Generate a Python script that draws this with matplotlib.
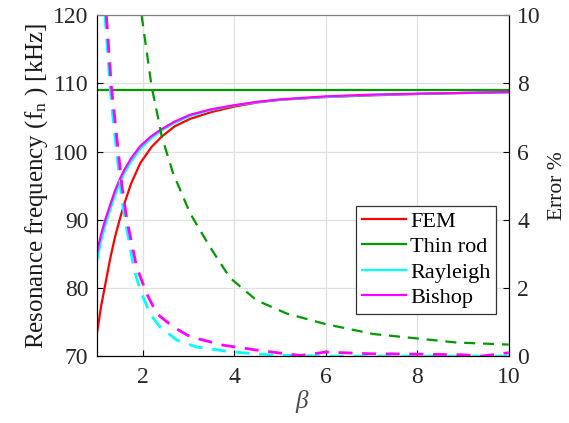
import numpy as np
import matplotlib
matplotlib.use("Agg")
import matplotlib.pyplot as plt

plt.rcParams['font.family'] = ['Liberation Serif', 'DejaVu Serif']
plt.rcParams['mathtext.fontset'] = 'custom'
plt.rcParams['mathtext.rm'] = 'Liberation Serif'
plt.rcParams['mathtext.it'] = 'Liberation Serif:italic'

# Resonance frequency [kHz] vs beta
beta_f = [1.0, 1.1, 1.2, 1.3, 1.4, 1.5, 1.6, 1.75, 1.95, 2.2, 2.42, 2.7, 3.04,
          3.5, 4.0, 4.5, 5.0, 6.0, 7.0, 8.0, 9.0, 10.0]
fem = [73.2, 77.5, 81.0, 84.5, 87.5, 90.0, 92.3, 95.3, 98.3, 100.7, 102.2, 103.7,
       104.8, 105.8, 106.6, 107.2, 107.6, 108.0, 108.25, 108.45, 108.6, 108.7]
thin_rod = [109.0] * len(beta_f)
rayleigh = [83.8, 87.0, 89.5, 91.6, 93.6, 95.3, 96.8, 98.5, 100.4, 102.0, 103.1, 104.2,
            105.2, 106.1, 106.75, 107.25, 107.6, 108.0, 108.3, 108.45, 108.6, 108.7]
bishop = [85.1, 88.0, 90.3, 92.3, 94.3, 95.9, 97.3, 99.0, 100.8, 102.3, 103.3, 104.4,
          105.4, 106.2, 106.8, 107.3, 107.65, 108.1, 108.35, 108.5, 108.6, 108.75]

# Error % vs beta (right axis)
beta_thin_err = [1.98, 2.2, 2.35, 2.42, 2.67, 3.04, 3.47, 3.91, 4.49, 5.15, 6.0,
                 7.04, 8.0, 8.86, 10.0]
thin_err = [10.0, 7.9, 6.93, 6.44, 5.36, 4.19, 3.21, 2.3, 1.64, 1.25, 0.94,
            0.65, 0.52, 0.40, 0.34]
beta_ray_err = [1.18, 1.29, 1.36, 1.51, 1.55, 1.66, 1.73, 1.80, 1.95, 2.16, 2.38,
                2.75, 3.18, 3.91, 4.85, 6.0, 8.0, 10.0]
ray_err = [10.0, 7.9, 6.9, 5.07, 4.58, 3.70, 3.21, 2.62, 1.94, 1.25, 0.86,
           0.47, 0.27, 0.13, 0.03, 0.0, 0.0, 0.0]
beta_bis_err = [1.21, 1.32, 1.40, 1.55, 1.66, 1.87, 2.09, 2.31, 2.67, 3.04, 3.77,
                4.49, 5.07, 5.45, 6.0, 7.0, 8.0, 9.0, 9.4, 10.0]
bis_err = [10.0, 7.9, 6.9, 5.0, 3.99, 2.62, 1.84, 1.25, 0.86, 0.57, 0.32,
           0.18, 0.08, 0.02, 0.12, 0.07, 0.06, 0.04, 0.0, 0.1]

red = (1.0, 0.0, 0.0)
green = (0.0, 0.6, 0.0)
cyan = (0.0, 1.0, 1.0)
magenta = (1.0, 0.0, 1.0)

fig = plt.figure(figsize=(5.69, 4.23), dpi=100)
ax = fig.add_axes([0.170, 0.158, 0.724, 0.806])
ax2 = ax.twinx()

lw = 1.6
h1, = ax.plot(beta_f, fem, color=red, lw=lw, label='FEM')
h2, = ax.plot(beta_f, thin_rod, color=green, lw=lw, label='Thin rod')
h3, = ax.plot(beta_f, rayleigh, color=cyan, lw=lw, label='Rayleigh')
h4, = ax.plot(beta_f, bishop, color=magenta, lw=lw, label='Bishop')

ax2.plot(beta_thin_err, thin_err, color=green, lw=lw, ls=(0, (5, 3.5)))
ax2.plot(beta_ray_err, ray_err, color=cyan, lw=2.0, ls=(0, (5, 3.5)))
ax2.plot(beta_bis_err, bis_err, color=magenta, lw=2.0, ls=(0, (5, 3.5)))

ax.set_xlim(1, 10)
ax.set_ylim(70, 120)
ax2.set_ylim(0, 10)
ax.set_xticks([2, 4, 6, 8, 10])
ax.set_yticks([70, 80, 90, 100, 110, 120])
ax2.set_yticks([0, 2, 4, 6, 8, 10])

ax.grid(True, color=(0.88, 0.88, 0.88), lw=0.9)
ax.set_axisbelow(True)

fs = 17
for a in (ax, ax2):
    a.tick_params(direction='in', labelsize=fs, length=4, colors='black',
                  labelcolor=(0.15, 0.15, 0.15), pad=6)
ax.tick_params(axis='x', pad=8)
ax.spines['top'].set_color((0.5, 0.5, 0.5))
ax2.spines['top'].set_color((0.5, 0.5, 0.5))

ax.set_xlabel(r'$\beta$', fontsize=18, color=(0.3, 0.3, 0.3), labelpad=0)
ax.set_ylabel(r'Resonance frequency (f$_\mathrm{n}$ ) [kHz]', fontsize=18,
              color=(0.1, 0.1, 0.1), labelpad=2)
ax2.set_ylabel('Error %', fontsize=15.5, color=(0.1, 0.1, 0.1), labelpad=5)

leg = ax2.legend(handles=[h1, h2, h3, h4], loc='lower right',
                 bbox_to_anchor=(0.97, 0.125), fontsize=16, frameon=True,
                 fancybox=False, handlelength=2.0, handletextpad=0.2,
                 borderpad=0.25, labelspacing=0.22, borderaxespad=0)
leg.get_frame().set_edgecolor((0.2, 0.2, 0.2))
leg.get_frame().set_linewidth(0.9)
leg.get_frame().set_alpha(1)

fig.savefig('out.png', dpi=100)
